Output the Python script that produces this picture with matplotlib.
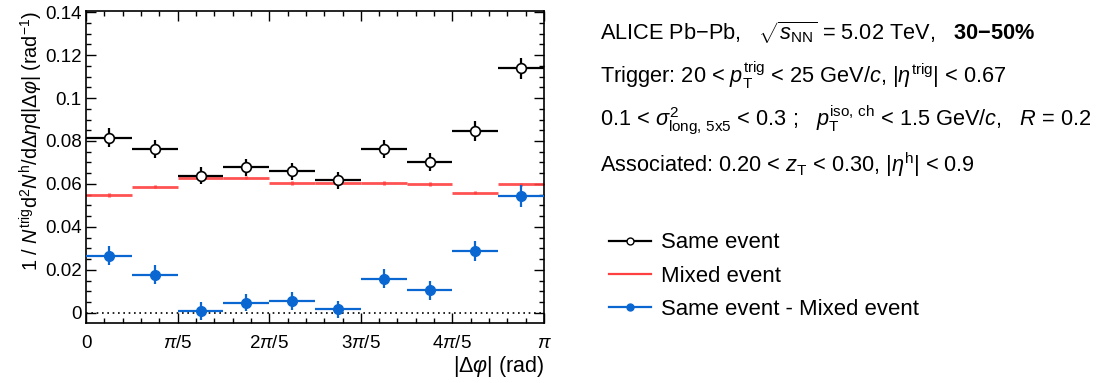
import numpy as np
import matplotlib
matplotlib.use("Agg")
import matplotlib.pyplot as plt
from matplotlib.ticker import FixedLocator, MultipleLocator
from matplotlib.lines import Line2D

plt.rcParams['font.family'] = ['Liberation Sans', 'DejaVu Sans']
plt.rcParams['mathtext.fontset'] = 'custom'
plt.rcParams['mathtext.rm'] = 'Liberation Sans'
plt.rcParams['mathtext.it'] = 'Liberation Sans:italic'
plt.rcParams['mathtext.bf'] = 'Liberation Sans:bold'

# ---- data ----
n_bins = 10
bin_centers = (np.arange(n_bins) + 0.5) * np.pi / n_bins
bin_halfwidth = np.pi / n_bins / 2

same_event = [0.0815, 0.0763, 0.0638, 0.0677, 0.0659, 0.0618, 0.0762, 0.0702, 0.0846, 0.1138]
same_err = [0.0044, 0.0043, 0.0040, 0.0040, 0.0040, 0.0040, 0.0043, 0.0042, 0.0045, 0.0050]
mixed_event = [0.0548, 0.0587, 0.0630, 0.0630, 0.0605, 0.0605, 0.0605, 0.0600, 0.0560, 0.0598]
mixed_err = [0.0008, 0.0008, 0.0008, 0.0008, 0.0008, 0.0008, 0.0008, 0.0008, 0.0008, 0.0008]
diff_event = [0.0267, 0.0178, 0.0009, 0.0048, 0.0056, 0.0016, 0.0158, 0.0105, 0.0287, 0.0542]
diff_err = [0.0045, 0.0044, 0.0041, 0.0041, 0.0041, 0.0041, 0.0044, 0.0043, 0.0046, 0.0051]

xtick_vals = [0, np.pi / 5, 2 * np.pi / 5, 3 * np.pi / 5, 4 * np.pi / 5, np.pi]
xtick_labels = ['0', r'$\pi$/5', r'2$\pi$/5', r'3$\pi$/5', r'4$\pi$/5', r'$\pi$']
ytick_vals = [0, 0.02, 0.04, 0.06, 0.08, 0.1, 0.12, 0.14]
ytick_labels = ['0', '0.02', '0.04', '0.06', '0.08', '0.1', '0.12', '0.14']

legend_labels = ['Same event', 'Mixed event', 'Same event - Mixed event']

c_black = 'black'
c_red = '#ff4040'
c_blue = '#0a67d2'

fig = plt.figure(figsize=(11.04, 3.83), dpi=100)
ax = fig.add_axes([0.0779, 0.1567, 0.4149, 0.8146])

ax.axhline(0, color='black', lw=1.2, ls=(0, (1, 2.2)), zorder=1)

ax.errorbar(bin_centers, mixed_event, xerr=bin_halfwidth, yerr=mixed_err, fmt='none',
            ecolor=c_red, elinewidth=2.0, capsize=0, alpha=0.9, zorder=2)
ax.errorbar(bin_centers, same_event, xerr=bin_halfwidth, yerr=same_err, fmt='o',
            color=c_black, mfc='white', mec='black', mew=1.2, ms=7,
            elinewidth=1.6, capsize=0, zorder=3)
ax.errorbar(bin_centers, diff_event, xerr=bin_halfwidth, yerr=diff_err, fmt='o',
            color=c_blue, mfc=c_blue, mec=c_blue, ms=7,
            elinewidth=1.6, capsize=0, zorder=4)

ax.set_xlim(0, np.pi)
ax.set_ylim(-0.0047, 0.1405)

ax.xaxis.set_major_locator(FixedLocator(xtick_vals))
ax.set_xticklabels(xtick_labels)
ax.xaxis.set_minor_locator(MultipleLocator(np.pi / 25))
ax.yaxis.set_major_locator(FixedLocator(ytick_vals))
ax.set_yticklabels(ytick_labels)
ax.yaxis.set_minor_locator(MultipleLocator(0.005))

ax.tick_params(which='both', direction='in', top=True, right=True, labelsize=13.5, width=1.0)
ax.tick_params(which='major', length=7)
ax.tick_params(which='minor', length=3.5)
ax.tick_params(axis='x', pad=9)
ax.tick_params(axis='y', pad=3)
for sp in ax.spines.values():
    sp.set_linewidth(1.2)

ax.set_xlabel(r'|$\Delta\varphi$| (rad)', fontsize=15.5, loc='right', labelpad=1)
ax.set_ylabel(r'1 / $N^{\rm trig}{\rm d}^{2}N^{\rm h}/{\rm d}\Delta\eta{\rm d}|\Delta\varphi|$ (rad$^{-1}$)',
              fontsize=14.3, loc='top', labelpad=0)

# ---- annotations ----
tx = 0.5435
fs = 15.7
fig.text(tx, 0.915, r'ALICE Pb$-$Pb,   $\sqrt{s_{\rm NN}}$ = 5.02 TeV,   $\mathbf{30}$$\mathbf{-}$$\mathbf{50\%}$',
         fontsize=fs, va='center')
fig.text(tx, 0.803, r'Trigger: 20 < $p_{\rm T}^{\rm trig}$ < 25 GeV/$c$, |$\eta^{\rm trig}$| < 0.67',
         fontsize=fs, va='center')
fig.text(tx, 0.686, r'0.1 < $\sigma^{2}_{\rm long,\,5x5}$ < 0.3 ;   $p_{\rm T}^{\rm iso,\,ch}$ < 1.5 GeV/$c$,   $R$ = 0.2',
         fontsize=fs, va='center')
fig.text(tx, 0.570, r'Associated: 0.20 < $z_{\rm T}$ < 0.30, |$\eta^{\rm h}$| < 0.9',
         fontsize=fs, va='center')

handles = [
    Line2D([], [], color=c_black, lw=1.6, marker='o', ms=5, mfc='white', mec='black', mew=1.0),
    Line2D([], [], color=c_red, lw=1.6),
    Line2D([], [], color=c_blue, lw=1.6, marker='o', ms=5, mfc=c_blue, mec=c_blue),
]
fig.legend(handles, legend_labels, loc='upper left', bbox_to_anchor=(0.552, 0.393),
           frameon=False, fontsize=15.9, handlelength=1.9, handletextpad=0.45,
           labelspacing=0.55, borderpad=0, borderaxespad=0)

fig.savefig('out.png', dpi=100)
